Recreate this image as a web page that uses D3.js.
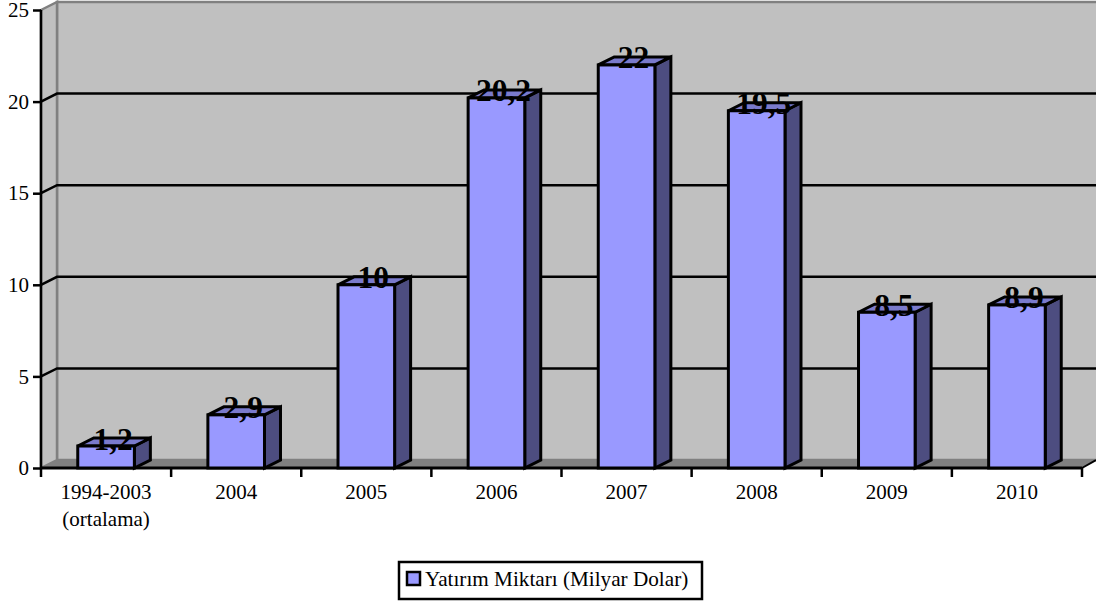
<!DOCTYPE html>
<html><head><meta charset="utf-8">
<script src="https://cdn.jsdelivr.net/npm/d3@7"></script>
<style>html,body{margin:0;padding:0;background:#fff;overflow:hidden}svg{display:block}text{font-family:"Liberation Serif",serif;fill:#000}</style>
</head><body><svg id="c" width="1096" height="603"></svg>
<script>
const categories=["1994-2003|(ortalama)","2004","2005","2006","2007","2008","2009","2010"];
const values=[1.2,2.9,10,20.2,22,19.5,8.5,8.9];
const yTicks=[0,5,10,15,20,25];
const seriesName="Yatırım Miktarı (Milyar Dolar)";

const svg=d3.select("#c");
const dx=16,dy=-8,x0=41,x1=1082,yBase=468,yTop=10,rightEdge=1096;
const y=d3.scaleLinear().domain([0,25]).range([yBase,yTop]);
const pad=0.565;
const x=d3.scaleBand().domain(categories).range([x0,x1]).paddingInner(pad).paddingOuter(pad/2);
const line=d3.line();
const poly=p=>line(p)+"Z";

// walls
svg.append("rect").attr("x",x0+dx).attr("y",yTop+dy).attr("width",rightEdge-x0-dx+2).attr("height",yBase-yTop)
  .attr("fill","#c0c0c0").attr("stroke","#808080").attr("stroke-width",2.5);
svg.append("path").attr("d",poly([[x0,yTop],[x0+dx,yTop+dy],[x0+dx,yBase+dy],[x0,yBase]]))
  .attr("fill","#c0c0c0").attr("stroke","#808080").attr("stroke-width",2.5);
// floor
svg.append("path").attr("d",poly([[x0,yBase],[x0+dx,yBase+dy],[rightEdge,yBase+dy],[x1,yBase]]))
  .attr("fill","#808080");
// grid
svg.selectAll("path.grid").data(yTicks.filter(t=>t>0&&t<25)).join("path").attr("class","grid")
  .attr("fill","none").attr("stroke","#000").attr("stroke-width",2.5)
  .attr("d",t=>line([[x0,y(t)],[x0+dx,y(t)+dy],[rightEdge,y(t)+dy]]));

// axes
const gy=svg.append("g").attr("transform",`translate(${x0},0)`).call(
  d3.axisLeft(y).tickValues(yTicks).tickSize(8).tickPadding(4).tickFormat(d3.format("d")));
gy.selectAll("line,path").attr("stroke","#000").attr("stroke-width",2.5);
gy.select("path").attr("d",line([[0,yTop],[0,yBase]]));
gy.selectAll("text").attr("font-size",21).style('font-family','"Liberation Serif",serif');

const gx=svg.append("g").attr("transform",`translate(0,${yBase})`);
gx.append("line").attr("x1",x0).attr("x2",x1).attr("stroke","#000").attr("stroke-width",3);
gx.append("path").attr("d",line([[x1,0],[rightEdge,dy]])).attr("stroke","#000").attr("stroke-width",2).attr("fill","none");
const step=x.step();
gx.selectAll("line.t").data(d3.range(categories.length+1)).join("line").attr("class","t")
  .attr("x1",i=>x0+i*step).attr("x2",i=>x0+i*step).attr("y1",0).attr("y2",9)
  .attr("stroke","#000").attr("stroke-width",2.5);
const lab=gx.selectAll("text").data(categories).join("text")
  .attr("text-anchor","middle").attr("font-size",21)
  .attr("transform",d=>`translate(${x(d)+x.bandwidth()/2},0)`);
lab.selectAll("tspan").data(d=>d.split("|")).join("tspan")
  .attr("x",0).attr("y",(d,i)=>31+i*27).text(d=>d);

// bars
const bars=svg.selectAll("g.bar").data(categories.map((c,i)=>({c,v:values[i]}))).join("g").attr("class","bar");
const st=g=>g.attr("stroke","#000").attr("stroke-width",3).attr("stroke-linejoin","miter");
bars.append("path").call(st).attr("fill","#4d4d80").attr("d",d=>{const r=x(d.c)+x.bandwidth();
  return poly([[r,y(d.v)],[r+dx,y(d.v)+dy],[r+dx,yBase+dy],[r,yBase]]);});
bars.append("path").call(st).attr("fill","#7a7acc").attr("d",d=>{const l=x(d.c),r=l+x.bandwidth();
  return poly([[l,y(d.v)],[l+dx,y(d.v)+dy],[r+dx,y(d.v)+dy],[r,y(d.v)]]);});
bars.append("rect").call(st).attr("fill","#9999ff")
  .attr("x",d=>x(d.c)).attr("width",x.bandwidth()).attr("y",d=>y(d.v)).attr("height",d=>yBase-y(d.v));
// value labels
bars.append("text").attr("text-anchor","middle").attr("font-size",31.5).attr("font-weight","bold")
  .attr("x",d=>x(d.c)+x.bandwidth()/2+7).attr("y",d=>y(d.v)+3.5)
  .text(d=>String(d.v).replace(".",","));

// legend
const lg=svg.append("g").attr("transform","translate(399,562)");
lg.append("rect").attr("width",303).attr("height",37).attr("fill","#fff").attr("stroke","#000").attr("stroke-width",2.5);
lg.append("rect").attr("x",8).attr("y",10).attr("width",13).attr("height",13).attr("fill","#9999ff").attr("stroke","#000").attr("stroke-width",2.5);
lg.append("text").attr("x",26).attr("y",23.5).attr("font-size",21.2).text(seriesName);
</script></body></html>
